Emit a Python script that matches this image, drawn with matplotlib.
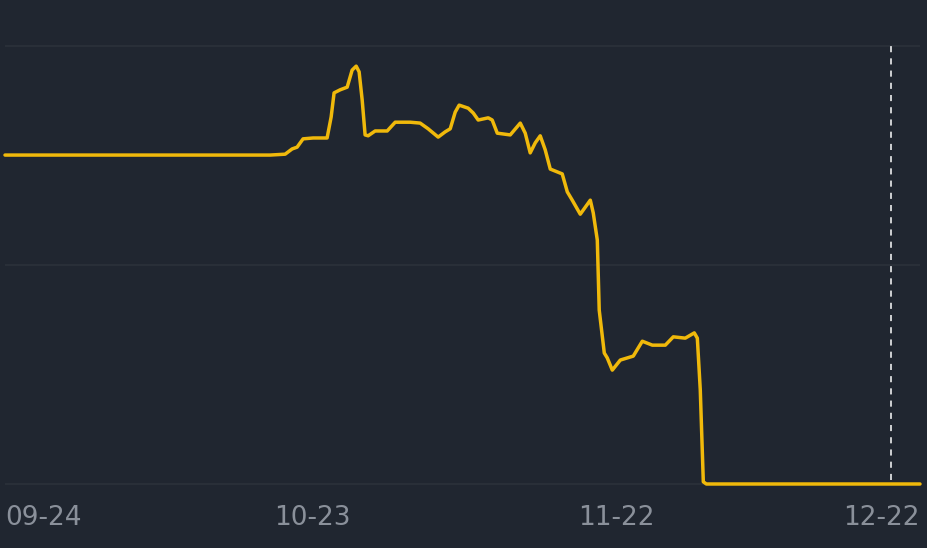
import matplotlib.pyplot as plt

# days since 09-24, value (grid lines sit at 0 / 50 / 100)
days = [-1.28, 24.88, 26.36, 27.05, 27.54, 28.13, 29.12, 30.50, 30.90, 31.19,
        31.79, 32.48, 32.97, 33.37, 33.66, 33.96, 34.25, 34.55, 35.24, 36.43,
        37.22, 38.70, 39.68, 40.47, 41.46, 42.15, 42.65, 43.14, 43.53, 44.42,
        44.92, 45.41, 46.40, 46.79, 47.29, 48.57, 49.56, 50.05, 50.54, 51.04,
        51.53, 52.02, 52.52, 53.70, 54.20, 54.69, 55.48, 56.47, 56.76, 57.16,
        57.35, 57.85, 58.14, 58.64, 59.43, 60.71, 61.60, 62.59, 63.87, 64.66,
        65.84, 66.73, 67.03, 67.32, 67.62, 67.92, 89.0]
values = [75.1, 75.1, 75.3, 76.5, 76.9, 78.8, 79.0, 79.0, 83.8, 89.3,
          90.0, 90.6, 94.5, 95.4, 94.1, 87.7, 79.7, 79.5, 80.6, 80.6,
          82.6, 82.6, 82.4, 81.1, 79.2, 80.4, 81.1, 84.9, 86.5, 85.8,
          84.7, 83.1, 83.6, 83.1, 80.1, 79.7, 82.4, 80.1, 75.6, 77.9,
          79.5, 76.3, 71.9, 70.8, 66.7, 64.8, 61.6, 64.8, 61.9, 55.7,
          39.7, 29.9, 28.8, 26.0, 28.3, 29.2, 32.6, 31.7, 31.7, 33.6,
          33.3, 34.5, 33.3, 21.5, 0.5, 0.0, 0.0]

tick_days = [-1.28, 29, 59, 89]
tick_labels = ["09-24", "10-23", "11-22", "12-22"]
marker_day = 86.1

BG = "#202630"
GRID = "#2b3139"
TEXT = "#8a909a"
YELLOW = "#f0b90b"

fig = plt.figure(figsize=(9.28, 5.48), dpi=100, facecolor=BG)
ax = fig.add_axes([5 / 928, 1 - 490 / 548, 915 / 928, 450 / 548])
ax.set_facecolor(BG)
ax.set_xlim(-1.28, 89)
ax.set_ylim(-1.37, 101.37)

for g in [0, 50, 100]:
    ax.axhline(g, color=GRID, lw=1.3, zorder=1)

ax.vlines(marker_day, 0.9, 100, colors="white", lw=1.1,
          linestyles=(0, (4, 4)), zorder=2)

ax.plot(days, values, color=YELLOW, lw=2.5, solid_joinstyle="round",
        solid_capstyle="round", clip_on=False, zorder=3)

for d, lab in zip(tick_days, tick_labels):
    ha = "center"
    if lab == tick_labels[0]:
        ha = "left"
    elif lab == tick_labels[-1]:
        ha = "right"
    ax.text(d, -0.062, lab, transform=ax.get_xaxis_transform(), ha=ha,
            va="center", color=TEXT, fontsize=19, family="DejaVu Sans")

ax.set_xticks([])
ax.set_yticks([])
for s in ax.spines.values():
    s.set_visible(False)

fig.savefig("out.png", dpi=100, facecolor=BG)
